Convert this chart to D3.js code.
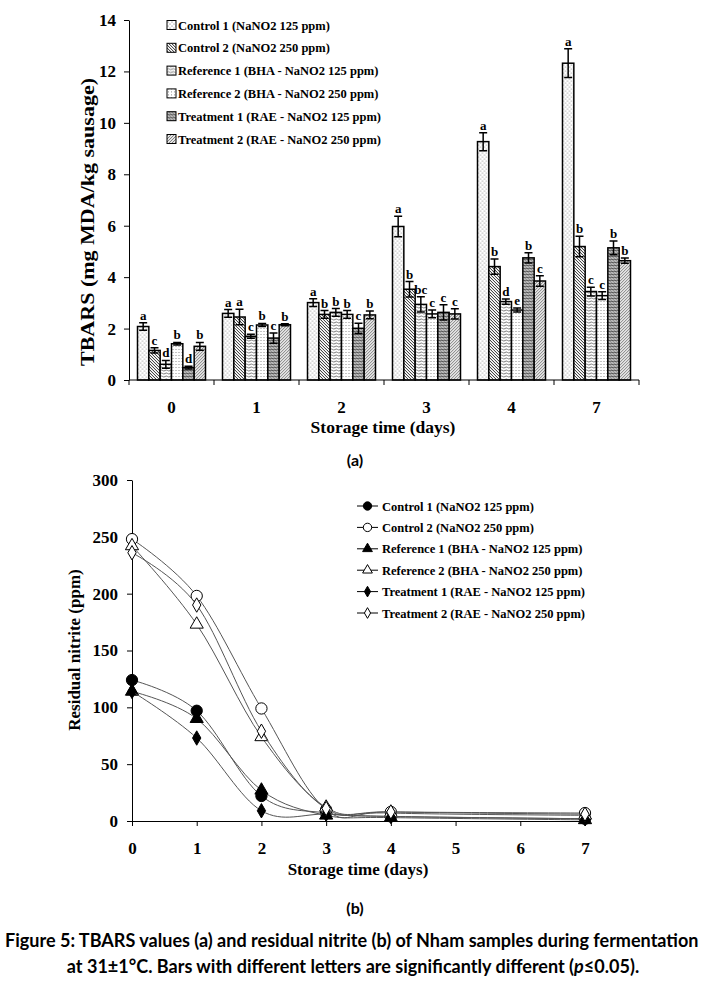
<!DOCTYPE html>
<html>
<head>
<meta charset="utf-8">
<script src="https://cdn.jsdelivr.net/npm/d3@7/dist/d3.min.js"></script>
<style>
  body { margin: 0; background: #fff; }
  svg text { font-family: "Liberation Serif", "Times New Roman", serif; font-weight: bold; fill: #000; }
  svg text.cap { font-family: Lato, "Open Sans", sans-serif; }
</style>
</head>
<body>
<svg id="fig" width="707" height="986"></svg>
<script>
const days = ['0', '1', '2', '3', '4', '7']
const seriesNames = [
  'Control 1 (NaNO2 125 ppm)',
  'Control 2 (NaNO2 250 ppm)',
  'Reference 1 (BHA - NaNO2 125 ppm)',
  'Reference 2 (BHA - NaNO2 250 ppm)',
  'Treatment 1 (RAE - NaNO2 125 ppm)',
  'Treatment 2 (RAE - NaNO2 250 ppm)'
]

// (a) TBARS, mg MDA/kg sausage
const tbarsC1 = [2.08, 2.59, 3.01, 5.97, 9.27, 12.32]
const tbarsC2 = [1.15, 2.45, 2.55, 3.53, 4.41, 5.19]
const tbarsR1 = [0.61, 1.70, 2.63, 2.94, 3.05, 3.44]
const tbarsR2 = [1.41, 2.14, 2.55, 2.57, 2.72, 3.28]
const tbarsT1 = [0.48, 1.63, 2.01, 2.63, 4.75, 5.14]
const tbarsT2 = [1.31, 2.15, 2.53, 2.57, 3.85, 4.64]
const errC1 = [0.15, 0.15, 0.15, 0.40, 0.35, 0.56]
const errC2 = [0.10, 0.30, 0.15, 0.30, 0.30, 0.40]
const errR1 = [0.15, 0.08, 0.15, 0.30, 0.10, 0.17]
const errR2 = [0.05, 0.06, 0.15, 0.15, 0.08, 0.15]
const errT1 = [0.05, 0.20, 0.20, 0.30, 0.20, 0.27]
const errT2 = [0.15, 0.04, 0.15, 0.20, 0.20, 0.10]
const letC1 = ['a', 'a', 'a', 'a', 'a', 'a']
const letC2 = ['c', 'a', 'b', 'b', 'b', 'b']
const letR1 = ['d', 'c', 'b', 'bc', 'd', 'c']
const letR2 = ['b', 'b', 'b', 'c', 'e', 'c']
const letT1 = ['d', 'c', 'c', 'c', 'b', 'b']
const letT2 = ['b', 'b', 'b', 'c', 'c', 'b']
const tbarsTicks = [0, 2, 4, 6, 8, 10, 12, 14]

// (b) residual nitrite, ppm
const nitriteDays = [0, 1, 2, 3, 4, 7]
const nitC1 = [124, 97, 22, 7, 4, 2]
const nitC2 = [248, 198, 99, 10, 8, 7]
const nitR1 = [114, 90, 27, 5, 3, 1]
const nitR2 = [242, 173, 74, 12, 7, 5]
const nitT1 = [114, 73, 9, 6, 4, 2]
const nitT2 = [236, 190, 79, 11, 8, 6]
const nitriteTicks = [0, 50, 100, 150, 200, 250, 300]

const svg = d3.select('#fig')
const defs = svg.append('defs')

function addPattern (id, w, h, draw) {
  let p = defs.append('pattern')
    .attr('id', id)
    .attr('patternUnits', 'userSpaceOnUse')
    .attr('width', w).attr('height', h)
  p.append('rect').attr('width', w).attr('height', h).attr('fill', '#fff')
  draw(p)
}
addPattern('p0', 4, 4, p => {
  p.append('circle').attr('cx', 1).attr('cy', 1).attr('r', 0.55).attr('fill', '#666')
  p.append('circle').attr('cx', 3).attr('cy', 3).attr('r', 0.55).attr('fill', '#666')
})
addPattern('p1', 3, 3, p => {
  p.append('path').attr('d', 'M0,0L3,3M-1,2L1,4M2,-1L4,1').attr('stroke', '#222').attr('stroke-width', 1)
})
addPattern('p2', 5, 3, p => {
  p.append('path').attr('d', 'M0,1.5Q1.25,0.4 2.5,1.5T5,1.5').attr('stroke', '#555').attr('stroke-width', 0.8).attr('fill', 'none')
})
addPattern('p3', 3, 3, p => {
  p.append('circle').attr('cx', 1.5).attr('cy', 1.5).attr('r', 0.55).attr('fill', '#777')
})
addPattern('p4', 3, 3, p => {
  p.append('rect').attr('width', 3).attr('height', 3).attr('fill', '#bbb')
  p.append('path').attr('d', 'M0,1.5Q0.75,0.5 1.5,1.5T3,1.5').attr('stroke', '#222').attr('stroke-width', 0.9).attr('fill', 'none')
})
addPattern('p5', 3, 3, p => {
  p.append('rect').attr('width', 3).attr('height', 3).attr('fill', '#e6e6e6')
  p.append('path').attr('d', 'M0,3L3,0M-1,1L1,-1M2,4L4,2').attr('stroke', '#777').attr('stroke-width', 0.9)
})

// ---------- (a) TBARS bars ----------
const barVals = [tbarsC1, tbarsC2, tbarsR1, tbarsR2, tbarsT1, tbarsT2]
const barErrs = [errC1, errC2, errR1, errR2, errT1, errT2]
const barLets = [letC1, letC2, letR1, letR2, letT1, letT2]

const x0 = d3.scaleBand().domain(days).range([129, 639]).paddingInner(0.2).paddingOuter(0.1)
const x1 = d3.scaleBand().domain(d3.range(seriesNames.length)).range([0, x0.bandwidth()])
const ya = d3.scaleLinear().domain([0, 14]).range([380, 20])

const gA = svg.append('g')

const yAxisA = gA.append('g')
  .attr('transform', 'translate(129,0)')
  .call(d3.axisLeft(ya).tickValues(tbarsTicks).tickSize(5).tickPadding(8).tickSizeOuter(0))
yAxisA.selectAll('text').attr('font-size', 17).attr('font-family', null)
yAxisA.selectAll('line, path').attr('stroke', '#000')

const barData = []
days.forEach((d, i) => {
  barVals.forEach((vals, s) => {
    barData.push({ day: d, s: s, v: vals[i], e: barErrs[s][i], l: barLets[s][i] })
  })
})

const bars = gA.append('g').selectAll('g.bar')
  .data(barData)
  .enter()
  .append('g')
    .attr('class', 'bar')
    .attr('transform', function (d) { return 'translate(' + (x0(d.day) + x1(d.s)) + ',0)' })

bars.append('rect')
  .attr('y', d => ya(d.v))
  .attr('width', x1.bandwidth())
  .attr('height', d => ya(0) - ya(d.v))
  .attr('fill', d => 'url(#p' + d.s + ')')
  .attr('stroke', '#000')
  .attr('stroke-width', 1.5)

const bw = x1.bandwidth()
bars.append('path')
  .attr('d', d => {
    let t = ya(d.v + d.e)
    let b = ya(d.v - d.e)
    let c = bw / 2
    return 'M' + c + ',' + t + 'V' + b + 'M' + (c - 4) + ',' + t + 'H' + (c + 4) + 'M' + (c - 4) + ',' + b + 'H' + (c + 4)
  })
  .attr('stroke', '#000')
  .attr('stroke-width', 1.5)
  .attr('fill', 'none')

bars.append('text')
  .attr('x', bw / 2)
  .attr('y', d => ya(d.v + d.e) - 3)
  .attr('text-anchor', 'middle')
  .attr('font-size', 13)
  .text(d => d.l)

// x axis with ticks between the groups
const step = x0.step()
const edge = (d, i) => i < days.length ? x0(d) - step * 0.1 : x0(days[days.length - 1]) + x0.bandwidth() + step * 0.1
const xAxisA = gA.append('g')
xAxisA.append('line').attr('x1', 129).attr('x2', 639).attr('y1', 380).attr('y2', 380).attr('stroke', '#000')
xAxisA.selectAll('line.tick')
  .data(days.concat(['end']))
  .enter()
  .append('line')
    .attr('class', 'tick')
    .attr('x1', edge)
    .attr('x2', edge)
    .attr('y1', 380).attr('y2', 385)
    .attr('stroke', '#000')
xAxisA.selectAll('text')
  .data(days)
  .enter()
  .append('text')
    .attr('x', d => x0(d) + x0.bandwidth() / 2)
    .attr('y', 413)
    .attr('text-anchor', 'middle')
    .attr('font-size', 17)
    .text(d => d)

gA.append('text')
  .attr('x', 383).attr('y', 433)
  .attr('text-anchor', 'middle')
  .attr('font-size', 17.5)
  .text('Storage time (days)')
gA.append('text')
  .attr('transform', 'translate(94,222) rotate(-90)')
  .attr('text-anchor', 'middle')
  .attr('font-size', 18)
  .attr('textLength', 288)
  .attr('lengthAdjust', 'spacingAndGlyphs')
  .text('TBARS (mg MDA/kg sausage)')

const legA = gA.append('g').selectAll('g')
  .data(seriesNames)
  .enter()
  .append('g')
    .attr('transform', (d, i) => 'translate(167,' + (25 + i * 22.8) + ')')
legA.append('rect')
  .attr('x', 0).attr('y', -4.5).attr('width', 9).attr('height', 9)
  .attr('fill', (d, i) => 'url(#p' + i + ')')
  .attr('stroke', '#000')
legA.append('text')
  .attr('x', 11).attr('y', 4.5)
  .attr('font-size', 12.5)
  .text(d => d)

svg.append('text')
  .attr('class', 'cap')
  .attr('x', 355).attr('y', 466)
  .attr('text-anchor', 'middle')
  .attr('font-size', 16)
  .text('(a)')

// ---------- (b) residual nitrite lines ----------
const nitVals = [nitC1, nitC2, nitR1, nitR2, nitT1, nitT2]
const markers = [
  { type: d3.symbolCircle, size: 100, fill: '#000' },
  { type: d3.symbolCircle, size: 100, fill: '#fff' },
  { type: d3.symbolTriangle, size: 75, fill: '#000' },
  { type: d3.symbolTriangle, size: 75, fill: '#fff' },
  { type: d3.symbolDiamond, size: 60, fill: '#000' },
  { type: d3.symbolDiamond, size: 60, fill: '#fff' }
]

const xb = d3.scaleLinear().domain([0, 7]).range([132, 585])
const yb = d3.scaleLinear().domain([0, 300]).range([821, 480])
const gB = svg.append('g')

const yAxisB = gB.append('g')
  .attr('transform', 'translate(132,0)')
  .call(d3.axisLeft(yb).tickValues(nitriteTicks).tickSize(5).tickPadding(9).tickSizeOuter(0))
yAxisB.selectAll('text').attr('font-size', 17).attr('font-family', null)
yAxisB.selectAll('line, path').attr('stroke', '#000')

const xAxisB = gB.append('g')
  .attr('transform', 'translate(0,821)')
  .call(d3.axisBottom(xb).ticks(7).tickSize(5).tickPadding(16).tickSizeOuter(0))
xAxisB.selectAll('text').attr('font-size', 17).attr('font-family', null)
xAxisB.selectAll('line, path').attr('stroke', '#000')

const line = d3.line()
  .x((d, i) => xb(nitriteDays[i]))
  .y(d => yb(d))
  .curve(d3.curveCardinal.tension(0))

const seriesB = gB.append('g').selectAll('g')
  .data(nitVals)
  .enter()
  .append('g')
seriesB.append('path')
  .attr('d', d => line(d))
  .attr('fill', 'none')
  .attr('stroke', '#555')
  .attr('stroke-width', 1)
seriesB.each(function (vals, s) {
  let m = markers[s]
  d3.select(this).selectAll('path.mk')
    .data(vals)
    .enter()
    .append('path')
      .attr('class', 'mk')
      .attr('transform', (d, i) => 'translate(' + xb(nitriteDays[i]) + ',' + yb(d) + ')')
      .attr('d', d3.symbol().type(m.type).size(m.size))
      .attr('fill', m.fill)
      .attr('stroke', '#000')
      .attr('stroke-width', 1)
})

gB.append('text')
  .attr('x', 358).attr('y', 875)
  .attr('text-anchor', 'middle')
  .attr('font-size', 17)
  .text('Storage time (days)')
gB.append('text')
  .attr('transform', 'translate(80,650) rotate(-90)')
  .attr('text-anchor', 'middle')
  .attr('font-size', 17)
  .text('Residual nitrite (ppm)')

const legB = gB.append('g').selectAll('g')
  .data(seriesNames)
  .enter()
  .append('g')
    .attr('transform', (d, i) => 'translate(357,' + (506 + i * 21.4) + ')')
legB.append('line')
  .attr('x1', 0).attr('x2', 21)
  .attr('stroke', '#000')
legB.append('path')
  .attr('transform', 'translate(10.5,0)')
  .attr('d', (d, i) => d3.symbol().type(markers[i].type).size(markers[i].size * 0.55)())
  .attr('fill', (d, i) => markers[i].fill)
  .attr('stroke', '#000')
legB.append('text')
  .attr('x', 25).attr('y', 4.5)
  .attr('font-size', 12.5)
  .text(d => d)

svg.append('text')
  .attr('class', 'cap')
  .attr('x', 355).attr('y', 914)
  .attr('text-anchor', 'middle')
  .attr('font-size', 16)
  .text('(b)')

// ---------- caption: first line sized to the reference width, second line same size ----------
const cap1 = svg.append('text')
  .attr('class', 'cap')
  .attr('x', 5).attr('y', 947)
  .attr('font-size', 16)
  .text('Figure 5:  TBARS values (a) and residual nitrite (b) of Nham samples during fermentation')
const capSize = 16 * 694 / cap1.node().getComputedTextLength()
cap1.attr('font-size', capSize)
const cap2 = svg.append('text')
  .attr('class', 'cap')
  .attr('x', 353).attr('y', 973)
  .attr('text-anchor', 'middle')
  .attr('font-size', capSize)
cap2.append('tspan').text('at 31±1°C. Bars with different letters are significantly different (')
cap2.append('tspan').attr('font-style', 'italic').text('p')
cap2.append('tspan').text('≤0.05).')
</script>
</body>
</html>
